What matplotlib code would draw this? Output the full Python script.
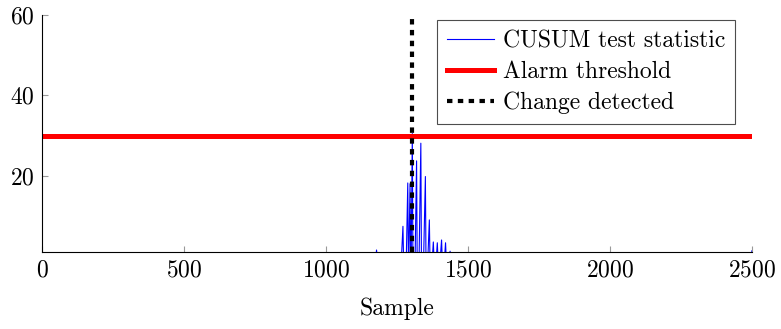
import numpy as np
import matplotlib.pyplot as plt

plt.rcParams['font.family'] = ['cmr10', 'DejaVu Serif']
plt.rcParams['axes.formatter.use_mathtext'] = True
plt.rcParams['mathtext.fontset'] = 'cm'

# CUSUM statistic (sample, value); zero elsewhere
samples = [0, 1176, 1178, 1180, 1266, 1271, 1273, 1283, 1288, 1290,
           1292, 1296, 1298, 1300, 1304, 1306, 1314, 1319, 1321,
           1328, 1334, 1336, 1344, 1350, 1352, 1359, 1364, 1366,
           1375, 1378, 1380, 1389, 1392, 1394, 1403, 1407, 1409,
           1418, 1421, 1423, 1434, 1437, 1439, 2498, 2500]
cusum = [0, 0, 1.5, 0, 0, 7.4, 0, 0, 18.2, 0,
         0, 18.0, 0, 0, 30.5, 0, 0, 23.7, 0,
         0, 28.1, 0, 0, 19.8, 0, 0, 9.0, 0,
         0, 3.5, 0, 0, 3.3, 0, 0, 4.0, 0,
         0, 3.3, 0, 0, 1.2, 0, 0, 1.3]
threshold = 30
change_sample = 1303

fig = plt.figure(figsize=(7.81, 3.29), dpi=100)
ax = fig.add_axes([0.0538, 0.234, 0.909, 0.72])

ax.plot(samples, cusum, color='blue', lw=0.8, label='CUSUM test statistic')
ax.axhline(threshold, color='red', lw=3.6, label='Alarm threshold')
ax.axvline(change_sample, color='black', lw=3.0, ls=(0, (1.3, 1.3)),
           label='Change detected')

ax.set_xlim(0, 2500)
ax.set_ylim(1, 60)
ax.set_xticks([0, 500, 1000, 1500, 2000, 2500])
ax.set_yticks([20, 40, 60])
ax.spines['top'].set_visible(False)
ax.spines['right'].set_visible(False)
ax.tick_params(direction='in', length=4, color='0.6', labelsize=17, pad=5)
ax.set_xlabel('Sample', fontsize=17, labelpad=12)

leg = ax.legend(loc='upper right', bbox_to_anchor=(0.976, 0.978), fontsize=17,
                frameon=True, fancybox=False, edgecolor='0.3', framealpha=1,
                handlelength=2.0, handletextpad=0.35, borderpad=0.42,
                labelspacing=0.37, borderaxespad=0)
leg.get_frame().set_linewidth(0.8)

fig.savefig('out.png', dpi=100)
